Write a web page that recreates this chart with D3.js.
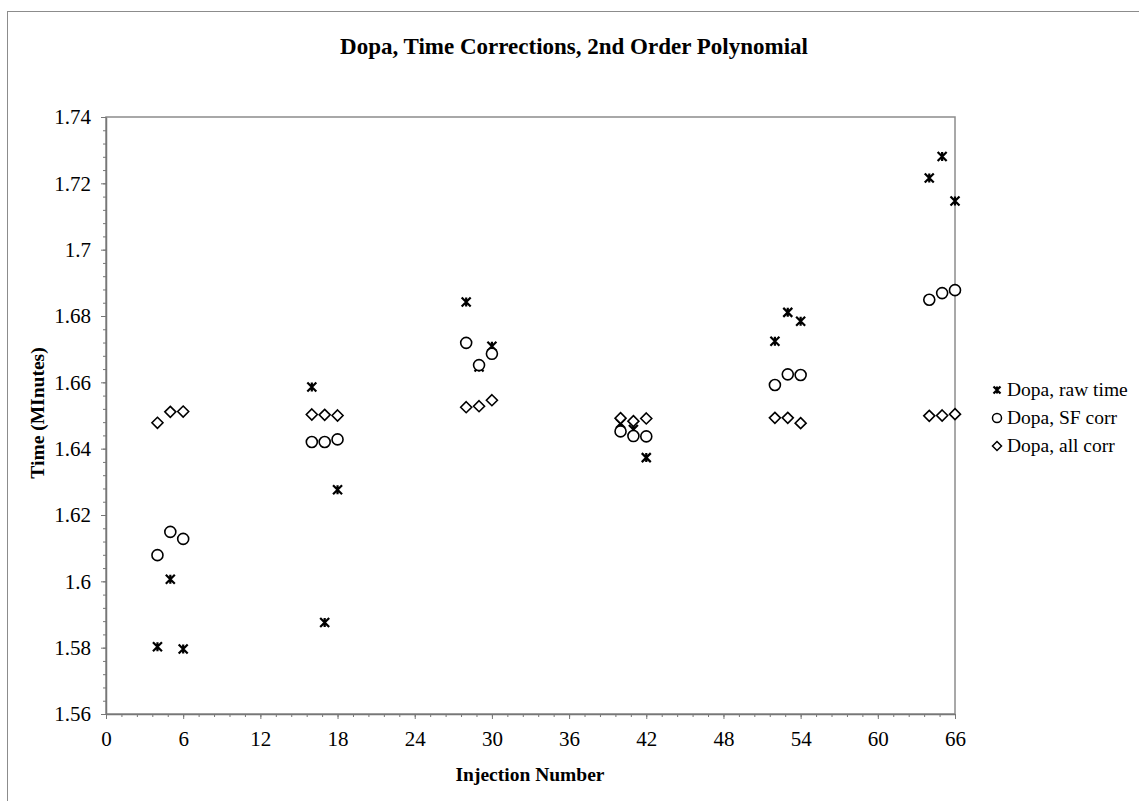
<!DOCTYPE html>
<html>
<head>
<meta charset="utf-8">
<script src="https://cdn.jsdelivr.net/npm/d3@7"></script>
<style>
  body { margin: 0; background: #fff; }
  text { font-family: "Liberation Serif", "Times New Roman", serif; }
</style>
</head>
<body>
<div id="chart"></div>
<script>
// injection numbers for each point
var injections = [4,5,6, 16,17,18, 28,29,30, 40,41,42, 52,53,54, 64,65,66];

// the three series
var rawTime = [1.5803,1.6006,1.5796, 1.6586,1.5876,1.6276, 1.6842,1.6646,1.6709, 1.6476,1.6458,1.6373, 1.6724,1.6811,1.6784, 1.7216,1.7281,1.7147];
var sfCorr  = [1.6079,1.6149,1.6128, 1.6420,1.6420,1.6428, 1.6719,1.6652,1.6686, 1.6452,1.6438,1.6437, 1.6592,1.6624,1.6622, 1.6849,1.6869,1.6878];
var allCorr = [1.6478,1.6511,1.6512, 1.6503,1.6502,1.6500, 1.6525,1.6528,1.6546, 1.6492,1.6483,1.6491, 1.6493,1.6493,1.6477, 1.6499,1.6500,1.6504];

var seriesNames = ["Dopa, raw time", "Dopa, SF corr", "Dopa, all corr"];

var xTicks = [0,6,12,18,24,30,36,42,48,54,60,66];
var yTicks = [1.56,1.58,1.6,1.62,1.64,1.66,1.68,1.7,1.72,1.74];
var yTickLabels = ["1.56","1.58","1.6","1.62","1.64","1.66","1.68","1.7","1.72","1.74"];

var width = 1139,
    height = 801,
    plot = {left:106, top:117, right:955, bottom:714};

var svg = d3.select('#chart')
  .append('svg')
  .attr('width', width)
  .attr('height', height);

// outer frame
svg.append('rect')
  .attr('x', 7.5).attr('y', 11.5)
  .attr('width', width).attr('height', height)
  .attr('fill', 'none')
  .attr('stroke', '#8c8c8c')
  .attr('stroke-width', 1);

var x = d3.scaleLinear().domain([0,66]).range([plot.left, plot.right]);
var y = d3.scaleLinear().domain([1.56,1.74]).range([plot.bottom, plot.top]);

// plot area border
svg.append('rect')
  .attr('x', plot.left).attr('y', plot.top)
  .attr('width', plot.right - plot.left)
  .attr('height', plot.bottom - plot.top)
  .attr('fill', 'none')
  .attr('stroke', '#8c8c8c')
  .attr('stroke-width', 1.5);

// minor ticks
var xMinor = d3.range(0, 66.01, 1.2);
var yMinor = d3.range(1.56, 1.7401, 0.004);

svg.append('g')
  .attr('transform', 'translate(0,' + plot.bottom + ')')
  .call(d3.axisBottom(x).tickValues(xMinor).tickSize(3).tickFormat(''))
  .call(function (g) { g.select('.domain').remove(); g.selectAll('line').attr('stroke', '#777'); });

svg.append('g')
  .attr('transform', 'translate(' + plot.left + ',0)')
  .call(d3.axisLeft(y).tickValues(yMinor).tickSize(3).tickFormat(''))
  .call(function (g) { g.select('.domain').remove(); g.selectAll('line').attr('stroke', '#777'); });

// major axes
var xAxis = svg.append('g')
  .attr('transform', 'translate(0,' + plot.bottom + ')')
  .call(d3.axisBottom(x).tickValues(xTicks).tickSize(5).tickSizeOuter(0).tickPadding(12));

var yAxis = svg.append('g')
  .attr('transform', 'translate(' + plot.left + ',0)')
  .call(d3.axisLeft(y).tickValues(yTicks).tickSize(5).tickSizeOuter(0).tickPadding(10)
    .tickFormat(function (d, i) { return yTickLabels[i]; }));

[xAxis, yAxis].forEach(function (g) {
  g.select('.domain').attr('stroke', '#777').attr('stroke-width', 1.5);
  g.selectAll('line').attr('stroke', '#777');
  g.selectAll('text')
    .attr('fill', '#000')
    .style('font-family', '"Liberation Serif", serif')
    .style('font-size', '21px');
});

// titles
svg.append('text')
  .attr('x', 574).attr('y', 54)
  .attr('text-anchor', 'middle')
  .style('font-size', '23px').style('font-weight', 'bold')
  .text('Dopa, Time Corrections, 2nd Order Polynomial');

svg.append('text')
  .attr('x', 530).attr('y', 781)
  .attr('text-anchor', 'middle')
  .style('font-size', '19.5px').style('font-weight', 'bold')
  .text('Injection Number');

svg.append('text')
  .attr('transform', 'translate(44,413) rotate(-90)')
  .attr('text-anchor', 'middle')
  .style('font-size', '19.5px').style('font-weight', 'bold')
  .text('Time (MInutes)');

// marker drawing helpers
function star(g, s) {
  g.append('path')
    .attr('d', 'M' + (-s) + ',' + (-s) + 'L' + s + ',' + s +
               'M' + (-s) + ',' + s + 'L' + s + ',' + (-s) +
               'M0,' + (-s) + 'L0,' + s)
    .attr('fill', 'none')
    .attr('stroke', '#000')
    .attr('stroke-width', 2.2);
}
function circle(g) {
  g.append('circle').attr('r', 5.5)
    .attr('fill', '#fff').attr('stroke', '#000').attr('stroke-width', 1.6);
}
function diamond(g) {
  g.append('path').attr('d', 'M0,-5.5L5.5,0L0,5.5L-5.5,0Z')
    .attr('fill', '#fff').attr('stroke', '#000').attr('stroke-width', 1.6);
}
var drawers = [function (g) { star(g, 4.5); }, circle, diamond];
var allSeries = [rawTime, sfCorr, allCorr];

allSeries.forEach(function (vals, k) {
  svg.append('g').selectAll('g')
    .data(vals)
    .enter().append('g')
    .attr('transform', function (d, i) {
      return 'translate(' + x(injections[i]) + ',' + y(d) + ')';
    })
    .each(function () { drawers[k](d3.select(this)); });
});

// legend
var legend = svg.append('g').attr('transform', 'translate(997,390)');
seriesNames.forEach(function (name, k) {
  var row = legend.append('g').attr('transform', 'translate(0,' + (k * 28) + ')');
  var m = row.append('g');
  if (k === 0) star(m, 3.5);
  else if (k === 1) m.append('circle').attr('r', 4.5).attr('fill', '#fff').attr('stroke', '#000').attr('stroke-width', 1.5);
  else m.append('path').attr('d', 'M0,-4.5L4.5,0L0,4.5L-4.5,0Z').attr('fill', '#fff').attr('stroke', '#000').attr('stroke-width', 1.5);
  row.append('text')
    .attr('x', 10).attr('y', 6)
    .style('font-size', '19.5px')
    .text(name);
});
</script>
</body>
</html>
